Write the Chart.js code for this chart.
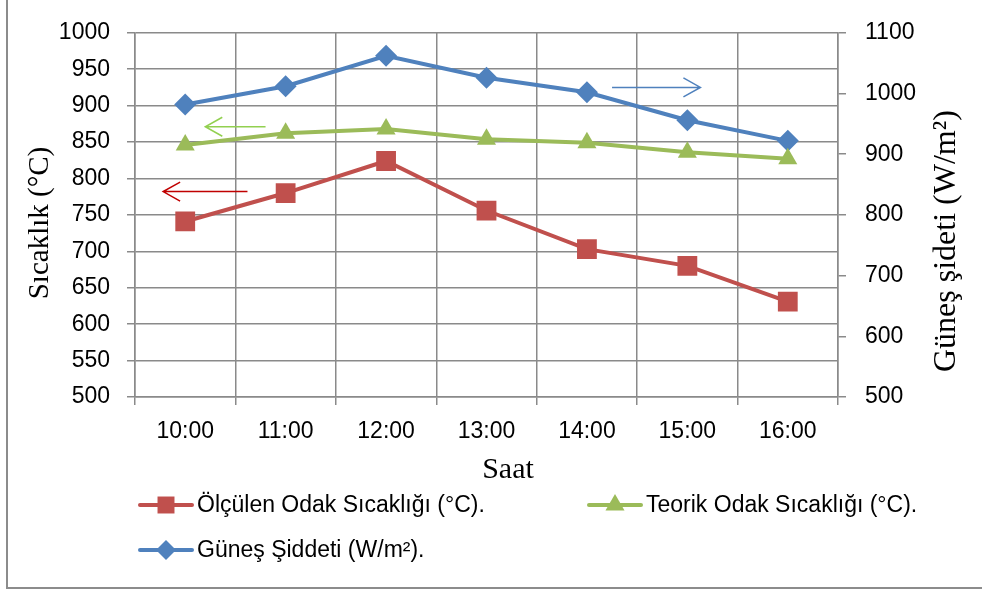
<!DOCTYPE html>
<html>
<head>
<meta charset="utf-8">
<script src="https://cdn.jsdelivr.net/npm/chart.js@4/dist/chart.umd.min.js"></script>
<style>
  html, body { margin: 0; padding: 0; background: #fff; }
  #wrap { width: 982px; height: 594px; }
</style>
</head>
<body>
<div id="wrap"><canvas id="chart" width="982" height="594"></canvas></div>
<script>
// ---------- DATA ----------
const hours = ["10:00", "11:00", "12:00", "13:00", "14:00", "15:00", "16:00"];
const measuredTemp = [741, 780, 824, 756, 703, 680, 631];      // °C, left axis
const theoreticalTemp = [846, 862, 868, 854, 849, 836, 827];   // °C, left axis
const solarIntensity = [982, 1012, 1062, 1026, 1002, 956, 922]; // W/m², right axis
const tempTicks = [500, 550, 600, 650, 700, 750, 800, 850, 900, 950, 1000];
const solarTicks = [500, 600, 700, 800, 900, 1000, 1100];

const RED = "#C0504D";
const GREEN = "#9BBB59";
const BLUE = "#4F81BD";
const GRID = "#8a8a8a";
const TICK_FONT = { family: "'Liberation Sans', Arial, sans-serif", size: 23 };

// arrows telling which axis each series belongs to (x = category index, y = axis value)
const arrows = [
  { color: "#C00000", axis: "y", from: [0.62, 782], to: [-0.22, 782] },
  { color: "#92D050", axis: "y", from: [0.8, 871], to: [0.2, 871] },
  { color: BLUE, axis: "y", from: [4.25, 925], to: [5.13, 925] },
];

// ---------- PLUGINS ----------
const framePlugin = {
  id: "frame",
  beforeDraw(chart) {
    const ctx = chart.ctx;
    ctx.save();
    ctx.strokeStyle = "#8c8c8c";
    ctx.lineWidth = 2;
    ctx.beginPath();
    ctx.moveTo(7, 0);
    ctx.lineTo(7, 588);
    ctx.lineTo(982, 588);
    ctx.stroke();
    ctx.restore();
  },
};

const arrowPlugin = {
  id: "arrows",
  afterDatasetsDraw(chart) {
    const ctx = chart.ctx;
    const xs = chart.scales.x;
    ctx.save();
    ctx.lineWidth = 1.5;
    arrows.forEach((a) => {
      const ys = chart.scales[a.axis];
      const fx = xs.getPixelForValue(a.from[0]);
      const fy = ys.getPixelForValue(a.from[1]);
      const tx = xs.getPixelForValue(a.to[0]);
      const ty = ys.getPixelForValue(a.to[1]);
      const dir = tx > fx ? 1 : -1;
      ctx.strokeStyle = a.color;
      ctx.beginPath();
      ctx.moveTo(fx, fy);
      ctx.lineTo(tx, ty);
      ctx.moveTo(tx - dir * 17, ty - 9.5);
      ctx.lineTo(tx, ty);
      ctx.lineTo(tx - dir * 17, ty + 9.5);
      ctx.stroke();
    });
    ctx.restore();
  },
};

function drawMarker(ctx, style, x, y, r) {
  ctx.beginPath();
  if (style === "rect") {
    const s = r * Math.SQRT1_2;
    ctx.rect(x - s, y - s, 2 * s, 2 * s);
  } else if (style === "rectRot") {
    ctx.moveTo(x - r, y);
    ctx.lineTo(x, y - r);
    ctx.lineTo(x + r, y);
    ctx.lineTo(x, y + r);
    ctx.closePath();
  } else if (style === "triangle") {
    ctx.moveTo(x, y - r);
    ctx.lineTo(x + r * 0.866, y + r * 0.5);
    ctx.lineTo(x - r * 0.866, y + r * 0.5);
    ctx.closePath();
  }
  ctx.fill();
}

const legendSpots = [
  { x: 138, y: 505 },
  { x: 587, y: 505 },
  { x: 138, y: 550 },
];

const labelsPlugin = {
  id: "labels",
  afterDraw(chart) {
    const ctx = chart.ctx;
    ctx.save();
    ctx.fillStyle = "#000";

    // axis titles
    ctx.font = "29px 'Liberation Serif', 'Times New Roman', serif";
    ctx.textAlign = "center";
    ctx.textBaseline = "middle";
    ctx.save();
    ctx.translate(40, 223);
    ctx.rotate(-Math.PI / 2);
    ctx.fillText("Sıcaklık (°C)", 0, 0);
    ctx.restore();

    ctx.font = "32px 'Liberation Serif', 'Times New Roman', serif";
    ctx.save();
    ctx.translate(947, 241);
    ctx.rotate(-Math.PI / 2);
    ctx.fillText("Güneş şideti (W/m²)", 0, 0);
    ctx.restore();

    ctx.font = "30px 'Liberation Serif', 'Times New Roman', serif";
    ctx.textBaseline = "alphabetic";
    ctx.fillText("Saat", 508, 478);

    // legend
    ctx.font = "23px 'Liberation Sans', Arial, sans-serif";
    ctx.textAlign = "left";
    ctx.textBaseline = "middle";
    chart.data.datasets.forEach((ds, i) => {
      const p = legendSpots[i];
      ctx.strokeStyle = ds.borderColor;
      ctx.fillStyle = ds.backgroundColor;
      ctx.lineWidth = 4;
      ctx.lineCap = "round";
      ctx.beginPath();
      ctx.moveTo(p.x + 2, p.y);
      ctx.lineTo(p.x + 54, p.y);
      ctx.stroke();
      drawMarker(ctx, ds.pointStyle, p.x + 28, p.y, ds.legendRadius);
      ctx.fillStyle = "#000";
      ctx.fillText(ds.label, p.x + 59, p.y + 1);
    });
    ctx.restore();
  },
};

// ---------- CHART ----------
new Chart(document.getElementById("chart"), {
  type: "line",
  data: {
    labels: hours,
    datasets: [
      {
        label: "Ölçülen Odak Sıcaklığı (°C).",
        data: measuredTemp,
        yAxisID: "y",
        borderColor: RED,
        backgroundColor: RED,
        borderWidth: 4,
        pointStyle: "rect",
        pointRadius: 14,
        pointBorderWidth: 0,
        legendRadius: 12,
      },
      {
        label: "Teorik Odak Sıcaklığı (°C).",
        data: theoreticalTemp,
        yAxisID: "y",
        borderColor: GREEN,
        backgroundColor: GREEN,
        borderWidth: 4,
        pointStyle: "triangle",
        pointRadius: 11,
        pointBorderWidth: 0,
        legendRadius: 11,
      },
      {
        label: "Güneş Şiddeti (W/m²).",
        data: solarIntensity,
        yAxisID: "y1",
        borderColor: BLUE,
        backgroundColor: BLUE,
        borderWidth: 4,
        pointStyle: "rectRot",
        pointRadius: 11,
        pointBorderWidth: 0,
        legendRadius: 10,
      },
    ],
  },
  options: {
    responsive: false,
    devicePixelRatio: 1,
    animation: false,
    layout: { padding: { top: 30, left: 0, right: 0, bottom: 0 } },
    plugins: {
      legend: { display: false },
      tooltip: { enabled: false },
    },
    elements: { line: { tension: 0 } },
    scales: {
      x: {
        offset: true,
        grid: { offset: true, color: GRID, lineWidth: 1.5, tickLength: 8 },
        border: { color: GRID, width: 1.5 },
        ticks: { color: "#000", font: TICK_FONT, padding: 13, maxRotation: 0 },
        afterFit(scale) { scale.height = 197; },
      },
      y: {
        position: "left",
        min: tempTicks[0],
        max: tempTicks[tempTicks.length - 1],
        afterBuildTicks(scale) { scale.ticks = tempTicks.map((v) => ({ value: v })); },
        grid: { color: GRID, lineWidth: 1.5, tickLength: 8 },
        border: { color: GRID, width: 1.5 },
        ticks: { color: "#000", font: TICK_FONT, padding: 17, callback: (v) => String(v) },
        afterFit(scale) { scale.width = 135; },
      },
      y1: {
        position: "right",
        min: solarTicks[0],
        max: solarTicks[solarTicks.length - 1],
        afterBuildTicks(scale) { scale.ticks = solarTicks.map((v) => ({ value: v })); },
        grid: { drawOnChartArea: false, color: GRID, lineWidth: 1.5, tickLength: 8 },
        border: { color: GRID, width: 1.5 },
        ticks: { color: "#000", font: TICK_FONT, padding: 19, callback: (v) => String(v) },
        afterFit(scale) { scale.width = 144; },
      },
    },
  },
  plugins: [framePlugin, arrowPlugin, labelsPlugin],
});
</script>
</body>
</html>
